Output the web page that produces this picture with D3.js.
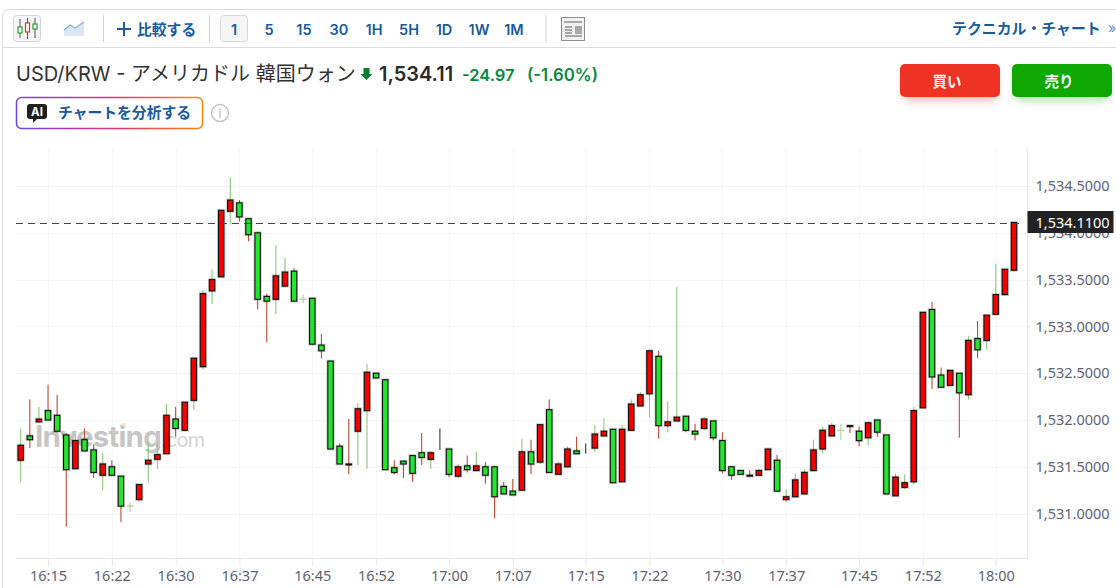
<!DOCTYPE html>
<html>
<head>
<meta charset="utf-8">
<script src="https://cdnjs.cloudflare.com/ajax/libs/d3/7.8.5/d3.min.js"></script>
<style>
html,body{margin:0;padding:0;background:#fff;overflow:hidden;}
svg{display:block;}
text{font-family:"Inter","Noto Sans CJK JP",sans-serif;}
.axis text{font-family:"Noto Sans","Noto Sans CJK JP",sans-serif;font-size:14.5px;fill:#5c6370;}
</style>
</head>
<body>
<svg id="drawarea"></svg>
<script>
var openP = [
1531.57,1531.83,1531.98,1532.10,1532.05,1531.84,1531.48,1531.79,1531.68,1531.41,
1531.50,1531.40,1531.08,1531.15,1531.53,1531.58,1531.64,1532.01,1531.89,1532.21,
1532.57,1533.38,1533.53,1534.23,1534.32,1534.15,1534.00,1533.32,1533.29,1533.43,
1533.59,1533.29,1533.30,1532.80,1532.63,1531.72,1531.53,1531.88,1532.10,1532.50,
1532.43,1531.49,1531.56,1531.62,1531.65,1531.58,1531.68,1531.69,1531.40,1531.51,
1531.46,1531.50,1531.50,1531.29,1531.24,1531.25,1531.66,1531.55,1532.11,1531.42,
1531.50,1531.67,1531.68,1531.70,1531.83,1531.90,1531.34,1531.89,1532.15,1532.28,
1532.68,1531.94,1531.99,1532.04,1531.88,1531.91,1531.99,1531.78,1531.50,1531.46,
1531.41,1531.41,1531.47,1531.57,1531.15,1531.18,1531.21,1531.46,1531.69,1531.83,
1531.89,1531.94,1531.88,1531.81,1532.00,1531.84,1531.19,1531.28,1531.34,1532.13,
1533.18,1532.48,1532.37,1532.50,1532.27,1532.87,1532.85,1533.13,1533.34,1533.60
];
var closeP = [
1531.73,1531.79,1532.01,1532.00,1531.88,1531.47,1531.78,1531.67,1531.44,1531.53,
1531.41,1531.08,1531.08,1531.31,1531.57,1531.63,1532.05,1531.91,1532.19,1532.66,
1533.35,1533.50,1534.24,1534.35,1534.17,1533.98,1533.29,1533.27,1533.54,1533.58,
1533.27,1533.29,1532.81,1532.74,1531.69,1531.53,1531.52,1532.12,1532.51,1532.45,
1531.47,1531.44,1531.53,1531.43,1531.60,1531.65,1531.68,1531.42,1531.50,1531.47,
1531.51,1531.41,1531.18,1531.21,1531.20,1531.66,1531.53,1531.95,1531.44,1531.53,
1531.69,1531.64,1531.68,1531.85,1531.88,1531.33,1531.90,1532.17,1532.27,1532.74,
1531.94,1531.98,1532.03,1531.89,1531.85,1532.01,1531.81,1531.46,1531.41,1531.42,
1531.40,1531.46,1531.69,1531.24,1531.18,1531.36,1531.44,1531.68,1531.89,1531.94,
1531.89,1531.93,1531.78,1531.97,1531.87,1531.21,1531.39,1531.33,1532.10,1533.15,
1532.46,1532.35,1532.53,1532.29,1532.85,1532.75,1533.12,1533.34,1533.61,1534.11
];
var highP = [
1531.91,1532.22,1532.14,1532.38,1532.27,1531.86,1531.85,1531.91,1531.74,1531.65,
1531.57,1531.40,1531.12,1531.31,1531.76,1531.75,1532.17,1532.14,1532.19,1532.66,
1533.39,1533.61,1534.24,1534.59,1534.35,1534.15,1534.01,1533.35,1533.87,1533.73,
1533.62,1533.34,1533.30,1532.92,1532.63,1531.75,1532.01,1532.18,1532.60,1532.50,
1532.43,1531.57,1531.56,1531.62,1531.86,1531.67,1531.91,1531.69,1531.53,1531.62,
1531.66,1531.55,1531.50,1531.34,1531.37,1531.80,1531.79,1531.95,1532.22,1531.55,
1531.72,1531.82,1531.75,1531.95,1532.02,1531.90,1531.95,1532.22,1532.30,1532.74,
1532.74,1532.20,1533.42,1532.04,1531.96,1532.03,1531.99,1531.87,1531.50,1531.46,
1531.46,1531.48,1531.69,1531.63,1531.26,1531.43,1531.47,1531.79,1531.93,1531.97,
1531.96,1531.94,1531.93,1531.98,1532.00,1531.84,1531.43,1531.42,1532.14,1533.15,
1533.26,1532.56,1532.53,1532.50,1532.90,1533.06,1533.12,1533.67,1533.61,1534.11
];
var lowP = [
1531.34,1531.70,1531.97,1532.00,1531.87,1530.86,1531.48,1531.67,1531.38,1531.25,
1531.41,1530.91,1531.02,1531.12,1531.33,1531.48,1531.64,1531.82,1531.88,1532.11,
1532.54,1533.24,1533.53,1534.09,1534.12,1533.91,1533.18,1532.83,1533.13,1533.43,
1533.27,1533.25,1532.81,1532.66,1531.69,1531.53,1531.42,1531.52,1531.48,1532.44,
1531.47,1531.42,1531.38,1531.34,1531.52,1531.48,1531.68,1531.39,1531.38,1531.44,
1531.46,1531.32,1530.95,1531.21,1531.20,1531.25,1531.42,1531.53,1531.44,1531.42,
1531.50,1531.64,1531.64,1531.66,1531.83,1531.33,1531.34,1531.89,1532.15,1532.03,
1531.80,1531.87,1531.99,1531.87,1531.78,1531.89,1531.78,1531.43,1531.36,1531.42,
1531.40,1531.41,1531.47,1531.24,1531.12,1531.18,1531.21,1531.46,1531.64,1531.83,
1531.79,1531.86,1531.72,1531.73,1531.82,1531.21,1531.19,1531.26,1531.31,1532.12,
1532.33,1532.35,1532.37,1531.81,1532.22,1532.66,1532.75,1533.13,1533.34,1533.59
];
// flat candles drawn as a pale cross rather than a black one
var paleCross = [12,31,90];

var priceTicks = [1534.5,1534,1533.5,1533,1532.5,1532,1531.5,1531];
var timeTickIndex = [3,10,17,24,32,39,47,54,62,69,77,84,92,99,107];
var timeTickLabels = ["16:15","16:22","16:30","16:37","16:45","16:52","17:00","17:07","17:15","17:22","17:30","17:37","17:45","17:52","18:00"];
var lastPrice = 1534.11;

var intervals = ["1","5","15","30","1H","5H","1D","1W","1M"];
var titleText = "USD/KRW - アメリカドル 韓国ウォン";
var priceText = "1,534.11";
var changeText = "-24.97";
var changePctText = "(-1.60%)";

var blue = "#1a5a9e", upRed = "#f80000", downGreen = "#22e62e";

var svg = d3.select("#drawarea").attr("width",1116).attr("height",588);
var defs = svg.append("defs");

var grad = defs.append("linearGradient").attr("id","aigrad")
    .attr("gradientUnits","userSpaceOnUse")
    .attr("x1",16).attr("y1",129).attr("x2",203).attr("y2",97);
grad.append("stop").attr("offset","0").attr("stop-color","#6a45e8");
grad.append("stop").attr("offset","0.55").attr("stop-color","#e8306e");
grad.append("stop").attr("offset","1").attr("stop-color","#ff8a00");

var shadow = defs.append("filter").attr("id","soft").attr("x","-20%").attr("y","-40%").attr("width","140%").attr("height","200%");
shadow.append("feGaussianBlur").attr("stdDeviation",4);

/* card and toolbar */
svg.append("path").attr("d","M2.5 588V16a6 6 0 0 1 6-6.5H1116").attr("fill","none").attr("stroke","#dcdcdc").attr("stroke-width",1);
svg.append("line").attr("x1",3).attr("x2",1116).attr("y1",47.5).attr("y2",47.5).attr("stroke","#dcdcdc");

[103.5,209.5,546].forEach(function(x){
    svg.append("line").attr("x1",x).attr("x2",x).attr("y1",15).attr("y2",42).attr("stroke","#cfcfcf");
});

// candle icon
svg.append("rect").attr("x",13.5).attr("y",15.5).attr("width",27).attr("height",26).attr("rx",3).attr("fill","#f4f5f6").attr("stroke","#d4d6d9");
[[20,"#2f9e2f",27,33,19,38],[27.5,"#e5322b",23,32,18,39],[35,"#2f9e2f",24,29,18,38]].forEach(function(c){
    svg.append("line").attr("x1",c[0]).attr("x2",c[0]).attr("y1",c[4]).attr("y2",c[5]).attr("stroke","#555");
    svg.append("rect").attr("x",c[0]-2).attr("y",c[2]).attr("width",4).attr("height",c[3]-c[2]).attr("fill","#fff").attr("stroke",c[1]).attr("stroke-width",1.2);
});
// area icon
svg.append("path").attr("d","M64 30L70 25L75 28L84 22V36H64Z").attr("fill","#dbe6f3");
svg.append("path").attr("d","M64 30L70 25L75 28L84 22").attr("fill","none").attr("stroke","#8fb0d3").attr("stroke-width",1.3);

// compare
svg.append("path").attr("d","M117 29H131M124 22V36").attr("stroke",blue).attr("stroke-width",2).attr("fill","none");
svg.append("text").attr("x",137).attr("y",34.5).attr("font-size",14.8).attr("font-weight",600).attr("fill",blue).text("比較する");

// intervals
svg.append("rect").attr("x",220.5).attr("y",15.5).attr("width",27).attr("height",26).attr("rx",3).attr("fill","#f5f5f5").attr("stroke","#d8d8d8");
svg.selectAll(".iv").data(intervals).enter().append("text").attr("class","iv")
    .attr("x",function(d,i){return 234+i*35;}).attr("y",34.5).attr("text-anchor","middle")
    .attr("font-size",14.5).attr("font-weight",600).attr("fill",blue).text(function(d){return d;});

// layout icon
svg.append("rect").attr("x",561.5).attr("y",17.5).attr("width",23).attr("height",23).attr("fill","#f2f2f2").attr("stroke","#8e8e8e");
svg.append("path").attr("d","M564 22H582M565 27H572M565 30H572M565 33H572M565 36H582").attr("stroke","#8e8e8e").attr("stroke-width",1.4).attr("fill","none");
svg.append("rect").attr("x",575).attr("y",26).attr("width",7).attr("height",8).attr("fill","#a8a8a8");

svg.append("text").attr("x",952).attr("y",34).attr("font-size",14.9).attr("font-weight",600).attr("fill",blue).text("テクニカル・チャート");
svg.append("text").attr("x",1108).attr("y",33).attr("font-size",14).attr("fill","#5b8cc4").text("»");

/* title row */
svg.append("text").attr("x",16).attr("y",81).attr("font-size",20).attr("fill","#333").text(titleText);
svg.append("path").attr("d","M363.5 68H369.5V74H372.5L366.5 80L360.5 74H363.5Z").attr("fill","#0a7d33");
svg.append("text").attr("x",379).attr("y",81).attr("font-size",20).attr("font-weight",600).attr("fill","#2a2a2a").text(priceText);
svg.append("text").attr("x",462).attr("y",80.5).attr("font-size",16.5).attr("font-weight",600).attr("fill","#0a8a3e").text(changeText);
svg.append("text").attr("x",527).attr("y",80.5).attr("font-size",16.8).attr("font-weight",600).attr("fill","#0a8a3e").text(changePctText);

// AI button
svg.append("rect").attr("x",16.5).attr("y",97.5).attr("width",186).attr("height",31).attr("rx",5).attr("fill","#fff").attr("stroke","url(#aigrad)").attr("stroke-width",1.5);
svg.append("path").attr("d","M30 104H44a3 3 0 0 1 3 3V116a3 3 0 0 1-3 3H37L33 123V119H30a3 3 0 0 1-3-3V107a3 3 0 0 1 3-3Z").attr("fill","#1f1f1f");
svg.append("text").attr("x",37).attr("y",116).attr("text-anchor","middle").attr("font-size",11.5).attr("font-weight",700).attr("fill","#fff").text("AI");
svg.append("text").attr("x",58).attr("y",117.5).attr("font-size",14.8).attr("font-weight",600).attr("fill",blue).text("チャートを分析する");
svg.append("circle").attr("cx",220).attr("cy",113).attr("r",8.5).attr("fill","#fff").attr("stroke","#c4c4c4").attr("stroke-width",1.4);
svg.append("text").attr("x",220).attr("y",118).attr("text-anchor","middle").attr("font-size",12).attr("fill","#b0b0b0").text("i");

// buy & sell
[[900,"#ee3224","買い"],[1012,"#0ea800","売り"]].forEach(function(b){
    svg.append("rect").attr("x",b[0]+3).attr("y",70).attr("width",94).attr("height",31).attr("rx",5).attr("fill",b[1]).attr("opacity",0.3).attr("filter","url(#soft)");
    svg.append("rect").attr("x",b[0]).attr("y",64).attr("width",100).attr("height",33).attr("rx",5).attr("fill",b[1]);
    svg.append("text").attr("x",b[0]+47).attr("y",86.5).attr("text-anchor","middle").attr("font-size",14.5).attr("font-weight",700).attr("fill","#fff").text(b[2]);
});

/* scales */
var x = d3.scaleLinear().domain([0,openP.length-1]).range([20.7,1014]);
var y = d3.scaleLinear().domain([1534.5,1531]).range([186,513.6]);
var plotLeft = 16, plotRight = 1027.5, plotTop = 148, plotBottom = 558;

// grid
svg.append("g").selectAll("line").data(priceTicks).enter().append("line")
    .attr("x1",plotLeft).attr("x2",plotRight)
    .attr("y1",function(d){return Math.round(y(d))+0.5;}).attr("y2",function(d){return Math.round(y(d))+0.5;})
    .attr("stroke","#f4f5f7");
svg.append("g").selectAll("line").data(timeTickIndex).enter().append("line")
    .attr("x1",function(d){return Math.round(x(d))+0.5;}).attr("x2",function(d){return Math.round(x(d))+0.5;})
    .attr("y1",plotTop).attr("y2",plotBottom)
    .attr("stroke","#f4f5f7");

// watermark
var wm = svg.append("text").attr("x",35).attr("y",447).attr("font-size",29.5).attr("letter-spacing",-0.8);
wm.append("tspan").attr("font-weight",700).attr("fill","#c6c6c6").text("Investing");
wm.append("tspan").attr("font-weight",400).attr("font-size",20).attr("fill","#d4d4d4").text(".com");
svg.append("path").attr("d","M121 424L126 422L125 427Z").attr("fill","#fbe3c4");

// wicks
var wickColor = function(d,i){
    if(openP[i]==closeP[i]) return paleCross.indexOf(i)>=0 ? "#a5d396" : "#3a3a3a";
    return closeP[i]>openP[i] ? "#8cc87a" : "#c24a34";
};
svg.append("g").selectAll("line").data(openP).enter().append("line")
    .attr("x1",function(d,i){return x(i);}).attr("x2",function(d,i){return x(i);})
    .attr("y1",function(d,i){return y(highP[i]);}).attr("y2",function(d,i){return y(lowP[i]);})
    .attr("stroke",wickColor).attr("stroke-width",1.1);

// candle bodies, a grey halo under a black outline
var bw = 5.4;
var notPale = openP.map(function(d,i){return i;}).filter(function(i){return paleCross.indexOf(i)<0;});
function bodyAttrs(sel){
    sel.attr("x",function(i){return x(i)-bw/2;})
        .attr("y",function(i){return y(Math.max(openP[i],closeP[i]));})
        .attr("width",bw)
        .attr("height",function(i){return Math.abs(y(openP[i])-y(closeP[i]));});
}
svg.append("g").selectAll("rect").data(notPale).enter().append("rect").call(bodyAttrs)
    .attr("fill","none").attr("stroke","#000").attr("stroke-opacity",0.2).attr("stroke-width",2.8);
svg.append("g").selectAll("rect").data(notPale).enter().append("rect").call(bodyAttrs)
    .attr("fill",function(i){return closeP[i]>openP[i] ? upRed : downGreen;})
    .attr("stroke","#111").attr("stroke-width",1.1);

svg.append("g").selectAll("line").data(paleCross).enter().append("line")
    .attr("x1",function(i){return x(i)-3.5;}).attr("x2",function(i){return x(i)+3.5;})
    .attr("y1",function(i){return y(closeP[i]);}).attr("y2",function(i){return y(closeP[i]);})
    .attr("stroke","#a5d396").attr("stroke-width",1.2);

// axes
var axisY = d3.axisRight(y).tickValues(priceTicks).tickSize(3).tickPadding(5).tickFormat(d3.format(",.4f"));
var gy = svg.append("g").attr("class","axis").attr("transform","translate("+plotRight+",0)").call(axisY);
gy.select(".domain").remove();
gy.selectAll("line").attr("stroke","#e3e6ee");
// the price label covers the 1,534.0000 tick in the reference as well
svg.append("line").attr("x1",plotRight).attr("x2",plotRight).attr("y1",plotTop).attr("y2",plotBottom).attr("stroke","#e6e9f1");

var axisX = d3.axisBottom(x).tickValues(timeTickIndex).tickSize(8).tickPadding(5)
    .tickFormat(function(d){return timeTickLabels[timeTickIndex.indexOf(d)];});
var gx = svg.append("g").attr("class","axis").attr("transform","translate(0,"+plotBottom+")").call(axisX);
gx.select(".domain").remove();
gx.selectAll("line").attr("stroke","#e3e6ee");
svg.append("line").attr("x1",plotLeft).attr("x2",plotRight).attr("y1",plotBottom+0.5).attr("y2",plotBottom+0.5).attr("stroke","#e3e6ee");

// last price line and label
svg.append("line").attr("x1",plotLeft).attr("x2",1024)
    .attr("y1",Math.round(y(lastPrice))+0.5).attr("y2",Math.round(y(lastPrice))+0.5)
    .attr("stroke","#444").attr("stroke-dasharray","7 5");
svg.append("rect").attr("x",plotRight).attr("y",y(lastPrice)-11.5).attr("width",86).attr("height",22).attr("fill","#222");
svg.append("text").attr("x",plotRight+8).attr("y",y(lastPrice)+5.5)
    .style("font-family","'Noto Sans',sans-serif").attr("font-size",14.5).attr("fill","#fff")
    .text(d3.format(",.4f")(lastPrice));
</script>
</body>
</html>
